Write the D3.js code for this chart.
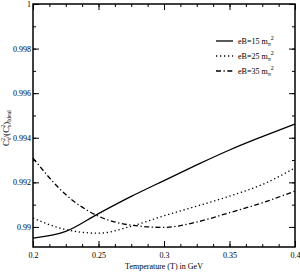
<!DOCTYPE html>
<html><head><meta charset="utf-8">
<script src="https://cdn.jsdelivr.net/npm/d3@7"></script>
<style>body{margin:0;background:#fff}svg{display:block}text{font-family:"Liberation Serif","Times New Roman",serif;fill:#000}</style>
</head><body><svg id="c" width="300" height="273"></svg>
<script>
const temps = [0.2,0.225,0.25,0.275,0.3,0.325,0.35,0.375,0.4];
const eB15 = [0.9895,0.9898,0.9906,0.99137,0.99208,0.99278,0.99345,0.99405,0.99462];
const eB25 = [0.9904,0.98988,0.98972,0.99003,0.9905,0.99093,0.99138,0.9919,0.99265];
const eB35 = [0.99309,0.99145,0.99048,0.99008,0.98998,0.99022,0.99064,0.99108,0.99161];
const xTicks = [0.2,0.25,0.3,0.35,0.4];
const xTickLabels = ["0.2","0.25","0.3","0.35","0.4"];
const yTicks = [0.99,0.992,0.994,0.996,0.998,1];
const yTickLabels = ["0.99","0.992","0.994","0.996","0.998","1"];
const seriesNames = ["eB=15 m","eB=25 m","eB=35 m"];

const svg = d3.select("#c");
const L=33,R=295,T=4,B=247;
const x = d3.scaleLinear().domain([0.2,0.4]).range([L,R]);
const y = d3.scaleLinear().domain([0.9891,1.0]).range([B,T]);

const xMinor = d3.range(0,17).map(i=>0.2+i*0.0125);
const yMinor = d3.range(0,12).map(i=>0.989+i*0.001).filter(v=>v>=0.9891&&v<=1.00001);

const g = svg.append("g");
function axis(gen, tr){ return g.append("g").attr("transform",tr).call(gen).call(s=>s.select(".domain").remove()).call(s=>s.selectAll("line").attr("stroke","#000").attr("stroke-width",1)); }
// bottom
axis(d3.axisBottom(x).tickValues(xMinor).tickSize(-3).tickFormat(""),`translate(0,${B})`);
const xb = axis(d3.axisBottom(x).tickValues(xTicks).tickSize(-6).tickPadding(5).tickFormat((d,i)=>xTickLabels[i]),`translate(0,${B})`);
xb.selectAll("text").attr("font-size",8).attr("font-family","Liberation Serif");
// top
axis(d3.axisTop(x).tickValues(xMinor).tickSize(-3).tickFormat(""),`translate(0,${T})`);
axis(d3.axisTop(x).tickValues(xTicks).tickSize(-6).tickFormat(""),`translate(0,${T})`);
// left
axis(d3.axisLeft(y).tickValues(yMinor).tickSize(-3).tickFormat(""),`translate(${L},0)`);
const yl = axis(d3.axisLeft(y).tickValues(yTicks).tickSize(-6).tickPadding(2).tickFormat((d,i)=>yTickLabels[i]),`translate(${L},0)`);
yl.selectAll("text").attr("font-size",8).attr("font-family","Liberation Serif");
// right
axis(d3.axisRight(y).tickValues(yMinor).tickSize(-3).tickFormat(""),`translate(${R},0)`);
axis(d3.axisRight(y).tickValues(yTicks).tickSize(-6).tickFormat(""),`translate(${R},0)`);

g.append("rect").attr("x",L).attr("y",T).attr("width",R-L).attr("height",B-T).attr("fill","none").attr("stroke","#000").attr("stroke-width",1.5);

const line = d3.line().x((d,i)=>x(temps[i])).y(d=>y(d)).curve(d3.curveMonotoneX);
const styles = [{dash:null,w:1.3},{dash:"1.3,2.7",w:1.3},{dash:"5,2.5,1.3,2.5",w:1.3}];
[eB15,eB25,eB35].forEach((s,k)=>{
  g.append("path").attr("d",line(s)).attr("fill","none").attr("stroke","#000")
   .attr("stroke-width",styles[k].w).attr("stroke-dasharray",styles[k].dash);
});

// legend
const legY=[41,56,71];
seriesNames.forEach((n,k)=>{
  g.append("line").attr("x1",216).attr("x2",233).attr("y1",legY[k]).attr("y2",legY[k])
   .attr("stroke","#000").attr("stroke-width",1.3).attr("stroke-dasharray",styles[k].dash);
  const t=g.append("text").attr("x",238).attr("y",legY[k]+3).attr("font-size",8);
  t.append("tspan").text(n);
  t.append("tspan").attr("font-size",6).attr("dy",2).text("π");
  t.append("tspan").attr("font-size",6).attr("dy",-6).text("2");
});

// axis labels
g.append("text").attr("x",(L+R)/2).attr("y",269).attr("text-anchor","middle").attr("font-size",8).text("Temperature (T) in GeV");
const ylab = g.append("text").attr("transform","translate(9,128) rotate(-90)").attr("text-anchor","middle").attr("font-size",8.5);
ylab.append("tspan").text("C");
ylab.append("tspan").attr("font-size",6).attr("dy",2).text("s");
ylab.append("tspan").attr("font-size",6).attr("dy",-6).attr("dx",-3).text("2");
ylab.append("tspan").attr("dy",4).text("/(C");
ylab.append("tspan").attr("font-size",6).attr("dy",2).text("s");
ylab.append("tspan").attr("font-size",6).attr("dy",-6).attr("dx",-3).text("2");
ylab.append("tspan").attr("dy",4).text(")");
ylab.append("tspan").attr("font-size",6).attr("dy",2).text("Ideal");
</script></body></html>
